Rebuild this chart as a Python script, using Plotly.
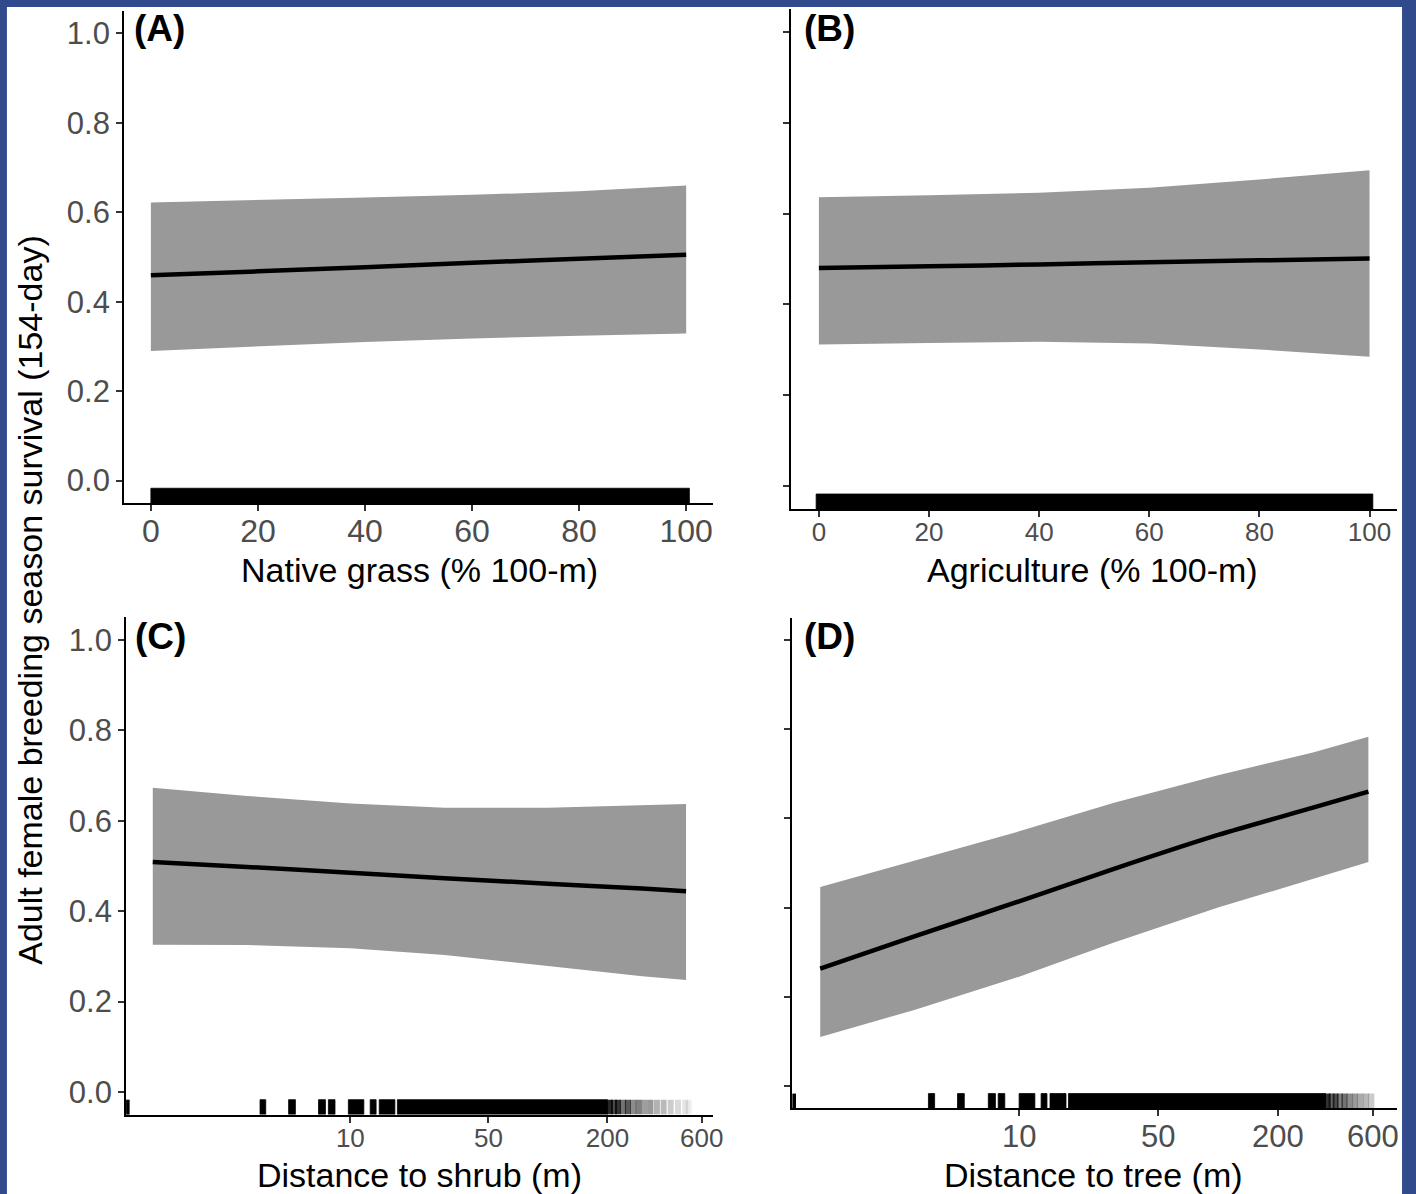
import plotly.graph_objects as go

W, H = 1416, 1194
FONT = "Liberation Sans, Arial, sans-serif"

# ---------------- data ----------------
grass_x = [0, 20, 40, 60, 80, 100]
grass_fit = [0.459, 0.468, 0.477, 0.487, 0.496, 0.505]
grass_upper = [0.622, 0.627, 0.633, 0.639, 0.647, 0.660]
grass_lower = [0.290, 0.300, 0.310, 0.318, 0.324, 0.329]
grass_rug_spans = [(0, 100.6)]

agri_x = [0, 20, 40, 60, 80, 100]
agri_fit = [0.480, 0.484, 0.488, 0.493, 0.497, 0.501]
agri_upper = [0.636, 0.640, 0.646, 0.657, 0.675, 0.695]
agri_lower = [0.312, 0.315, 0.318, 0.314, 0.301, 0.285]
agri_rug_spans = [(-0.5, 100.6)]

shrub_x = [1, 3, 10, 30, 100, 300, 500]
shrub_fit = [0.509, 0.498, 0.485, 0.473, 0.461, 0.450, 0.444]
shrub_upper = [0.673, 0.655, 0.638, 0.629, 0.629, 0.635, 0.637]
shrub_lower = [0.326, 0.325, 0.318, 0.303, 0.279, 0.256, 0.248]
shrub_rug_spans = [(3.49, 3.73), (4.87, 5.27), (6.9, 7.48), (7.74, 8.36),
                   (9.77, 11.7), (12.6, 13.5), (14.0, 16.8), (17.3, 200)]
shrub_rug_fade = [(206, 0.85), (216, 0.7), (226, 0.8), (240, 0.55), (254, 0.65),
                  (270, 0.45), (288, 0.5), (308, 0.38), (330, 0.4), (356, 0.3),
                  (385, 0.27), (418, 0.2), (455, 0.15), (495, 0.1), (515, 0.07)]

tree_x = [1, 3, 10, 30, 100, 300, 570]
tree_fit = [0.263, 0.336, 0.414, 0.487, 0.563, 0.624, 0.660]
tree_upper = [0.446, 0.506, 0.571, 0.635, 0.697, 0.748, 0.783]
tree_lower = [0.110, 0.171, 0.245, 0.322, 0.400, 0.465, 0.502]
tree_rug_spans = [(3.5, 3.76), (4.9, 5.3), (7.0, 7.6), (7.85, 8.47),
                  (10.0, 12.0), (12.9, 13.8), (14.3, 17.2), (17.7, 347)]
tree_rug_fade = [(356, 0.8), (372, 0.6), (390, 0.7), (410, 0.5), (432, 0.55),
                 (458, 0.45), (488, 0.4), (520, 0.33), (555, 0.28), (590, 0.2)]

pct_ticks = [0, 20, 40, 60, 80, 100]
dist_ticks = [10, 50, 200, 600]
y_ticks = [0.0, 0.2, 0.4, 0.6, 0.8, 1.0]

Y_RANGE = [-0.05, 1.05]
RUG_TOP = -0.05 + 0.03 * 1.1

fig = go.Figure()


def panel(xs, fit, up, lo, spans, fade, xa, ya):
    # ribbon
    fig.add_trace(go.Scatter(
        x=list(xs) + list(xs)[::-1], y=list(up) + list(lo)[::-1],
        fill="toself", fillcolor="#999999", line=dict(width=0),
        mode="lines", xaxis=xa, yaxis=ya, hoverinfo="skip", showlegend=False))
    # fitted line
    fig.add_trace(go.Scatter(
        x=xs, y=fit, mode="lines",
        line=dict(color="black", width=4.5, shape="spline", smoothing=0.8),
        xaxis=xa, yaxis=ya, hoverinfo="skip", showlegend=False))
    # rug spans
    rx, ry = [], []
    for a, b in spans:
        rx += [a, b, b, a, a, None]
        ry += [Y_RANGE[0], Y_RANGE[0], RUG_TOP, RUG_TOP, Y_RANGE[0], None]
    fig.add_trace(go.Scatter(
        x=rx, y=ry, fill="toself", fillcolor="black", mode="lines",
        line=dict(width=0.8, color="black"),
        xaxis=xa, yaxis=ya, hoverinfo="skip", showlegend=False))
    for v, a in fade:
        fig.add_trace(go.Scatter(
            x=[v, v], y=[Y_RANGE[0], RUG_TOP], mode="lines",
            line=dict(color=f"rgba(0,0,0,{a})", width=6),
            xaxis=xa, yaxis=ya, hoverinfo="skip", showlegend=False))


panel(grass_x, grass_fit, grass_upper, grass_lower, grass_rug_spans, [], "x", "y")
panel(agri_x, agri_fit, agri_upper, agri_lower, agri_rug_spans, [], "x2", "y2")
panel(shrub_x, shrub_fit, shrub_upper, shrub_lower, shrub_rug_spans, shrub_rug_fade, "x3", "y3")
panel(tree_x, tree_fit, tree_upper, tree_lower, tree_rug_spans, tree_rug_fade, "x4", "y4")


def px_x(p):
    return p / W


def px_y(p):
    return 1 - p / H


def xaxis(dom, rng, anchor, size, log=False):
    d = dict(domain=[px_x(dom[0]), px_x(dom[1])], range=rng, anchor=anchor,
             showline=True, linecolor="black", linewidth=2, showgrid=False,
             zeroline=False, ticks="outside", ticklen=6, tickwidth=2,
             tickcolor="#333333", ticklabelstandoff=-7,
             tickfont=dict(family=FONT, size=size, color="#4d4d4d"))
    if log:
        d.update(type="log", tickvals=dist_ticks,
                 ticktext=[str(t) for t in dist_ticks])
    else:
        d.update(tickvals=pct_ticks)
    return d


def yaxis(dom, anchor, labels):
    return dict(domain=[px_y(dom[0]), px_y(dom[1])], range=Y_RANGE, anchor=anchor,
                showline=True, linecolor="black", linewidth=2, showgrid=False,
                zeroline=False, ticks="outside", ticklen=6, tickwidth=2,
                tickcolor="#333333", tickvals=y_ticks, tickformat=".1f",
                showticklabels=labels,
                tickfont=dict(family=FONT, size=31, color="#4d4d4d"))


fig.update_layout(
    width=W, height=H, autosize=False,
    margin=dict(l=0, r=0, t=0, b=0),
    paper_bgcolor="#304a8c", plot_bgcolor="white",
    xaxis=xaxis((125, 718), [-5, 105], "y", 32),
    yaxis=yaxis((503, 11), "x", True),
    xaxis2=xaxis((797, 1407), [-5, 105], "y2", 26),
    yaxis2=yaxis((509, 9), "x2", False),
    xaxis3=xaxis((127, 718), [-0.135, 2.835], "y3", 26, log=True),
    yaxis3=yaxis((1114.6, 617.4), "x3", True),
    xaxis4=xaxis((798, 1407), [-0.14, 2.9], "y4", 31, log=True),
    yaxis4=yaxis((1108.3, 617.7), "x4", False),
)

# white page inside the blue frame
fig.add_shape(type="rect", xref="paper", yref="paper",
              x0=px_x(7), x1=px_x(1412), y0=-0.01, y1=px_y(7),
              fillcolor="white", line=dict(width=0), layer="below")

# observations at distance 0 (drawn at the axis edge on log scale)
for xr, yr in [("x3", "y3"), ("x4", "y4")]:
    fig.add_shape(type="rect", xref=f"{xr} domain", yref=f"{yr} domain",
                  x0=0, x1=0.006, y0=0, y1=0.03, fillcolor="black",
                  line=dict(width=0))

title_font = dict(family=FONT, size=34, color="black")
annos = [
    ("Native grass (% 100-m)", 422, 570),
    ("Agriculture (% 100-m)", 1100, 570),
    ("Distance to shrub (m)", 422, 1175),
    ("Distance to tree (m)", 1101, 1175),
]
for txt, cx, cy in annos:
    fig.add_annotation(text=txt, x=px_x(cx), y=px_y(cy), xref="paper", yref="paper",
                       showarrow=False, xanchor="center", yanchor="middle",
                       font=title_font)

fig.add_annotation(text="Adult female breeding season survival (154-day)",
                   x=px_x(30), y=px_y(600), xref="paper", yref="paper",
                   showarrow=False, textangle=-90, xanchor="center", yanchor="middle",
                   font=title_font)

for lab, lx, ly in [("(A)", 133, 29), ("(B)", 808, 29), ("(C)", 134, 636), ("(D)", 808, 636)]:
    fig.add_annotation(text=f"<b>{lab}</b>", x=px_x(lx), y=px_y(ly),
                       xref="paper", yref="paper", showarrow=False,
                       xanchor="left", yanchor="middle",
                       font=dict(family=FONT, size=37, color="black"))

fig.write_html("out.html",
               config={"responsive": False, "displayModeBar": False},
               post_script="document.body.style.margin='0';"
                           "document.body.style.overflow='hidden';")
